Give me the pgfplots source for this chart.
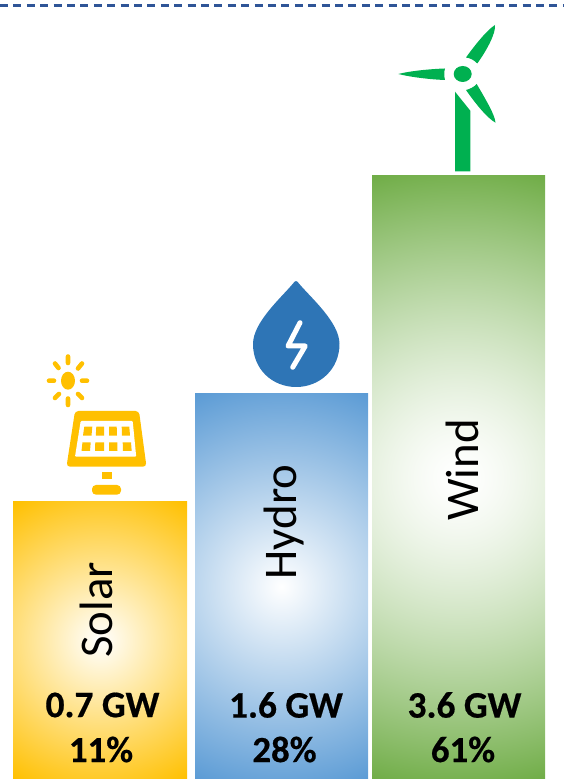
\documentclass[border=0pt]{standalone}
\usepackage{pgfplots}
\pgfplotsset{compat=1.18}
\usepackage{fontspec}
\setmainfont{Carlito}[BoldFeatures={FakeBold=0.5}]
\definecolor{sunc}{HTML}{FFC000}
\definecolor{dropc}{HTML}{2E75B6}
\definecolor{windc}{HTML}{00B050}
\definecolor{dashc}{HTML}{2F5597}
% circular (not elliptical) gradients, white centre to the bar colour at the corners
\pgfdeclarefunctionalshading{solarshade}{\pgfpointorigin}{\pgfpoint{100bp}{100bp}}{}{
  50 sub 25 div 0.846 mul dup mul exch 50 sub 25 div 0.533 mul dup mul add sqrt
  dup 1 gt {pop 1} if
  dup 0 mul 1 exch sub exch dup 0.247 mul 1 exch sub exch 1 mul 1 exch sub}
\pgfdeclarefunctionalshading{hydroshade}{\pgfpointorigin}{\pgfpoint{100bp}{100bp}}{}{
  50 sub 25 div 0.912 mul dup mul exch 50 sub 25 div 0.41 mul dup mul add sqrt
  dup 1 gt {pop 1} if
  dup 0.643 mul 1 exch sub exch dup 0.392 mul 1 exch sub exch 0.165 mul 1 exch sub}
\pgfdeclarefunctionalshading{windshade}{\pgfpointorigin}{\pgfpoint{100bp}{100bp}}{}{
  50 sub 25 div 0.961 mul dup mul exch 50 sub 25 div 0.277 mul dup mul add sqrt
  dup 1 gt {pop 1} if 1.4 exp
  dup 0.561 mul 1 exch sub exch dup 0.322 mul 1 exch sub exch 0.722 mul 1 exch sub}
\begin{document}
\begin{tikzpicture}
\path[use as bounding box] (0,0) rectangle (564bp,779bp);
\begin{axis}[scale only axis,width=564bp,height=779bp,
  xmin=0,xmax=564,ymin=0,ymax=779,axis lines=none,clip=false]
\addplot[ybar,bar width=174bp,bar shift=0pt,draw=none,shading=solarshade] coordinates {(100,277)};
\addplot[ybar,bar width=173bp,bar shift=0pt,draw=none,shading=hydroshade] coordinates {(281.5,385)};
\addplot[ybar,bar width=173bp,bar shift=0pt,draw=none,shading=windshade] coordinates {(458.5,603)};
\addplot[dashc,line width=2.2bp,dash pattern=on 8bp off 5.4bp,mark=none] coordinates {(0,773.5)(564,773.5)};
\end{axis}
\begin{scope}[x=1bp,y=-1bp,yshift=779bp]
% wind turbine
\fill[windc] (462.7,74) ellipse [x radius=9,y radius=8];
\fill[windc] (466,57.5) .. controls (475,45) and (487,30) .. (495,25) .. controls (496,33) and (487,50) .. (477.3,63.5) .. controls (474,60) and (470,58) .. cycle;
\fill[windc] (398.3,74) .. controls (410,71) and (430,69) .. (445,68.5) .. controls (444,72) and (444,76) .. (445,80) .. controls (430,79.5) and (410,77) .. cycle;
\fill[windc] (466,90) .. controls (470,89) and (474,87) .. (476.7,84) .. controls (486,100) and (495,115) .. (495.5,122.7) .. controls (487,118) and (475,103) .. cycle;
\fill[windc] (455,91.7)--(470.3,110.7)--(470.3,171.3)--(455,171.3)--cycle;
% drop
\fill[dropc] (293.5,283) .. controls (295,280.5) and (297,280.5) .. (298.5,283)
  .. controls (310,297) and (339.5,322) .. (339.5,344)
  .. controls (339.5,369) and (320,387) .. (296.2,387)
  .. controls (272,387) and (253,369) .. (253,344)
  .. controls (253,322) and (282,297) .. cycle;
\draw[white,line width=5bp,line cap=round,line join=round] (300,322.7)--(288,346)--(305.3,346)--(292.7,367.3);
% sun
\fill[sunc] (68,380.7) ellipse [x radius=7,y radius=9];
\draw[sunc,line width=4.6bp,line cap=round] (68,356.5)--(68,363) (68,398.5)--(68,405) (49,380.7)--(54,380.7) (82,380.7)--(87,380.7)
  (55,363.5)--(58.5,368) (82,363.5)--(78,368.5) (55,398)--(59,394) (82,398)--(78,394);
% panel
\fill[sunc,rounded corners=3.5bp] (75,411)--(139,411)--(146.5,466.7)--(66.5,466.7)--cycle;
\fill[white,rounded corners=1bp] (80.7,421)--(132.7,421)--(136.2,456.7)--(75,456.7)--cycle;
\fill[sunc] (84.3,426.7)--(92.3,426.7)--(91.5,435.7)--(83,435.7)--cycle
 (96.3,426.7)--(104,426.7)--(104,435.7)--(95.8,435.7)--cycle
 (109,426.7)--(116.7,426.7)--(117,435.7)--(109,435.7)--cycle
 (121.7,426.7)--(129.3,426.7)--(130,435.7)--(122,435.7)--cycle
 (82.5,442.3)--(90.7,442.3)--(90,451)--(81.5,451)--cycle
 (95.3,442.3)--(104,442.3)--(104,451)--(95,451)--cycle
 (109,442.3)--(117.3,442.3)--(117.5,451)--(109,451)--cycle
 (122.7,442.3)--(131,442.3)--(131.7,451)--(123,451)--cycle;
\fill[sunc] (102,472)rectangle(112,478.7);
\fill[sunc,rounded corners=4bp] (92,494.7)--(92,485)--(121,485)--(121,494.7)--cycle;
% text
\node[rotate=90,font=\fontsize{47}{47}\selectfont,inner sep=0pt] at (96.5,610) {Solar};
\node[rotate=90,font=\fontsize{47}{47}\selectfont,inner sep=0pt] at (284.5,522) {Hydro};
\node[rotate=90,font=\fontsize{47}{47}\selectfont,inner sep=0pt] at (462.5,470) {Wind};
\foreach \x/\a/\b/\c in {102.5/0.7/11,286/1.6/28,464.5/3.6/61}{
  \node[font=\fontsize{37.5}{37.5}\selectfont\bfseries,inner sep=0pt] at (\x,705) {\a{} GW};
  \node[font=\fontsize{37}{37}\selectfont\bfseries,inner sep=0pt] at (\x-1.5,749.5) {\b\%};
}
\end{scope}
\end{tikzpicture}
\end{document}
